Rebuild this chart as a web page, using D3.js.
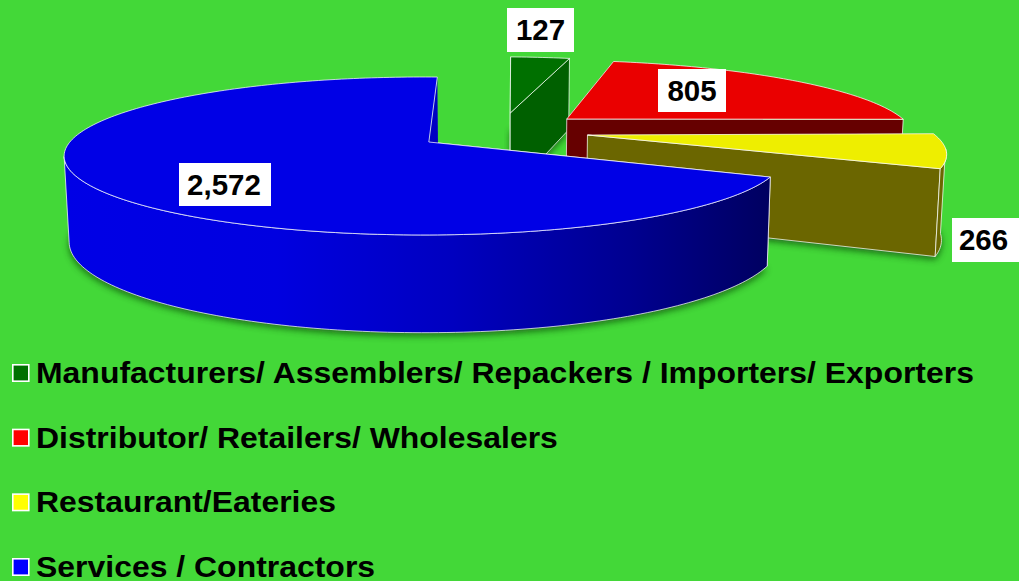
<!DOCTYPE html>
<html><head><meta charset="utf-8">
<script src="https://cdn.jsdelivr.net/npm/d3@7"></script>
<style>html,body{margin:0;padding:0;background:#43d838;overflow:hidden}svg{display:block}</style>
</head><body><svg id="c" width="1019" height="581"></svg>
<script>
const categories = ["Manufacturers/ Assemblers/ Repackers / Importers/ Exporters","Distributor/ Retailers/ Wholesalers","Restaurant/Eateries","Services / Contractors"];
const values = [127, 805, 266, 2572];
const valueLabels = ["127","805","266","2,572"];
const topColors = ["#007000","#ea0000","#eeee00","#0000e6"];
const wallColors = ["#006000","#660000","#6b6600","url(#blueWall)"];
const legendColors = ["#007000","#ff0000","#ffff00","#0000ff"];
// layout: slice displacement in disk units, small view-angle corrections in degrees, label boxes
const offsetU = [0.255,0.42,0.4636,-0.006];
const offsetV = [-0.406,-0.3175,-0.093,0];
const apexShiftU = [0,0,0,0.014];
const radii = [0.98,1.003,0.998,1];
const startNudge = [1.3,0,-1.2,-0.5];
const endNudge = [1.3,0,-0.6,1.3];
const labelBoxes = [[507,8,67,44],[658,69,68,43],[952,218,67,44],[179,163,92,43]];
const labelShift = [0,0,-2,-1];

const svg = d3.select("#c");
const defs = svg.append("defs");
const g = defs.append("linearGradient").attr("id","blueWall").attr("gradientUnits","userSpaceOnUse")
  .attr("x1",64).attr("x2",770).attr("y1",0).attr("y2",0);
[[0,"#0000e6"],[0.3,"#0000e0"],[0.55,"#0000c0"],[0.8,"#000090"],[1,"#000060"]].forEach(s=>g.append("stop").attr("offset",s[0]).attr("stop-color",s[1]));
defs.append("filter").attr("id","soft").attr("x","-10%").attr("y","-20%").attr("width","120%").attr("height","140%")
  .append("feGaussianBlur").attr("stdDeviation",3.5);

const Xc=426,Yc=142,A=76.5,B=354,k=0.177;
const project=(U,V)=>{const w=1-k*V;return [Xc+B*U/w,Yc+A*V/w];};
const lower=([x,y])=>[500+(x-500)*0.9885,1.15*y+62.5];
const rad=Math.PI/180, rot=1.2*rad;
const pie=d3.pie().sort(null).startAngle(rot).endAngle(rot+2*Math.PI);
const arcs=pie(values);
const line=d3.line();
const edge="rgba(255,255,255,0.72)";

const plot=svg.append("g");
arcs.forEach((a,i)=>{
  const u0=offsetU[i],v0=offsetV[i],r=radii[i];
  const t0=a.startAngle+startNudge[i]*rad, t1=a.endAngle+endNudge[i]*rad;
  const pt=t=>project(u0+r*Math.sin(t),v0-r*Math.cos(t));
  const apex=project(u0+apexShiftU[i],v0);
  const n=Math.max(4,Math.ceil((t1-t0)/0.02));
  const ts=d3.range(n+1).map(j=>t0+(t1-t0)*j/n);
  const rim=ts.map(pt);
  const rimLow=rim.map(lower);
  const apexLow=lower(apex);
  const gr=plot.append("g");
  gr.append("path").attr("d",line([apexLow,...rimLow])+"Z")
    .attr("transform","translate(0,3)")
    .attr("fill","#0a3a08").attr("opacity",0.7).attr("filter","url(#soft)");
  const wall=(pts,stroked,fill)=>gr.append("path").attr("d",line(pts)+"Z").attr("fill",fill||wallColors[i])
    .attr("stroke",stroked?edge:"none").attr("stroke-width",1).attr("stroke-linejoin","round");
  wall([apex,rim[0],rimLow[0],apexLow],i===0||i===3,i===3?topColors[3]:null);
  wall([apex,rim[n],rimLow[n],apexLow],i<3);
  const front=ts.filter(t=>-Math.cos(t)>=k);
  if(front.length>1){
    const fr=front.map(pt), frLow=fr.map(lower);
    wall([...fr,...frLow.slice().reverse()],true);
  }
  gr.append("path").attr("d",line([apex,...rim])+"Z").attr("fill",topColors[i]).attr("stroke",edge).attr("stroke-width",1).attr("stroke-linejoin","round");
});

const labels=svg.append("g");
labelBoxes.forEach((b,i)=>{
  labels.append("rect").attr("x",b[0]).attr("y",b[1]).attr("width",b[2]).attr("height",b[3]).attr("fill","#fff");
  labels.append("text").attr("x",b[0]+b[2]/2+labelShift[i]).attr("y",b[1]+b[3]/2+10.2).attr("text-anchor","middle")
    .attr("font-family","'Liberation Sans',Arial,sans-serif").attr("font-weight","bold").attr("font-size",29.5).attr("fill","#000").text(valueLabels[i]);
});

const rowY=d3.scaleLinear().domain([0,3]).range([383,577]);
const legend=svg.append("g");
categories.forEach((c,i)=>{
  const y=rowY(i);
  legend.append("rect").attr("x",12.8).attr("y",y-18.2).attr("width",16).attr("height",16.4).attr("fill",legendColors[i]).attr("stroke","#fff").attr("stroke-width",1.6);
  legend.append("text").attr("transform",`translate(36,${y}) scale(1.058,1)`).attr("font-family","'Liberation Sans',Arial,sans-serif").attr("font-weight","bold").attr("font-size",30.2).attr("fill","#000").text(c);
});
</script></body></html>
